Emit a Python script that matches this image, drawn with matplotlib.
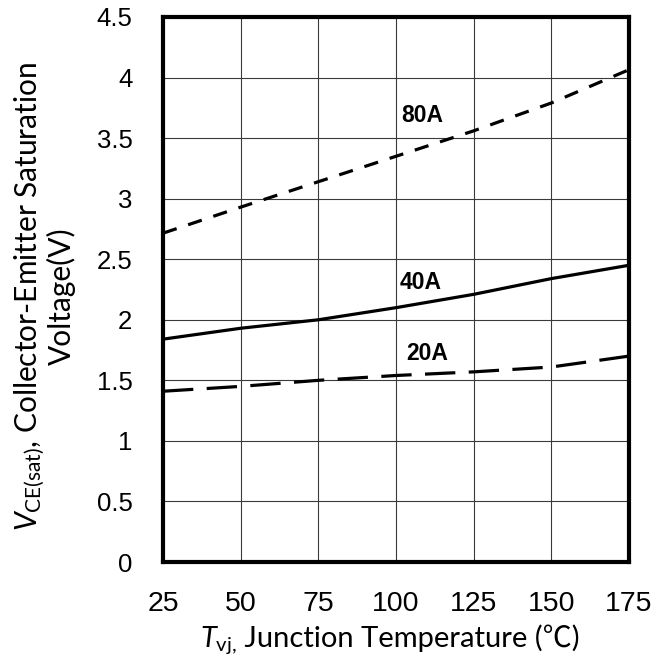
import numpy as np
import matplotlib
matplotlib.use("Agg")
import matplotlib.pyplot as plt

temps = [25, 50, 75, 100, 125, 150, 175]
vce_80a = [2.715, 2.93, 3.14, 3.35, 3.56, 3.79, 4.065]
vce_40a = [1.84, 1.93, 2.00, 2.10, 2.21, 2.34, 2.45]
vce_20a = [1.41, 1.45, 1.50, 1.54, 1.57, 1.61, 1.70]

labels = ["80A", "40A", "20A"]
label_pos = [(108.5, 3.69), (108.0, 2.31), (110.0, 1.72)]

plt.rcParams['mathtext.fontset'] = 'custom'
plt.rcParams['mathtext.rm'] = 'Lato'
plt.rcParams['mathtext.it'] = 'Lato:italic'

W, H = 672, 669
fig = plt.figure(figsize=(W / 100, H / 100), dpi=100)
ax = fig.add_axes([163 / W, 1 - 562 / H, 466 / W, 545 / H])

ax.plot(temps, vce_80a, color='black', lw=2.3, dashes=(4.5, 3.8), dash_capstyle='butt')
ax.plot(temps, vce_40a, color='black', lw=2.3)
ax.plot(temps, vce_20a, color='black', lw=2.3, dashes=(9.5, 4.2), dash_capstyle='butt')

for txt, (x, y) in zip(labels, label_pos):
    ax.text(x, y, txt, fontsize=16.5, fontweight='bold', family='Liberation Sans',
            ha='center', va='center')

ax.set_xlim(25, 175)
ax.set_ylim(0, 4.5)
ax.set_xticks(temps)
ax.set_yticks(np.arange(0, 4.51, 0.5))
ax.set_yticklabels(['0', '0.5', '1', '1.5', '2', '2.5', '3', '3.5', '4', '4.5'])
ax.grid(True, color='#3a3a3a', lw=0.8)
ax.set_axisbelow(True)
ax.tick_params(axis='y', length=0, labelsize=18.5, pad=22)
ax.tick_params(axis='x', length=0, labelsize=20.5, pad=21)
for lab in ax.get_xticklabels() + ax.get_yticklabels():
    lab.set_family('Liberation Sans')
for sp in ax.spines.values():
    sp.set_linewidth(3.0)

# y label, two centred lines
fig.text(44 / W, 1 - 296 / H,
         '$V_{\\mathrm{CE(sat)}}$, Collector-Emitter Saturation\nVoltage(V)',
         rotation=90, ha='center', va='center', multialignment='center',
         fontsize=21.5, family=['Lato', 'DejaVu Sans'], linespacing=1.0)

# x label: math part + plain part (℃ needs a fallback font)
fs = 21
base_y = 1 - 647 / H
t1 = fig.text(0, base_y, r'$T_{\mathrm{vj,}}$', fontsize=fs, va='baseline', ha='left')
t2 = fig.text(0, base_y, ' Junction Temperature (℃)', fontsize=fs, va='baseline', ha='left',
              family=['Lato', 'Noto Sans CJK SC', 'DejaVu Sans'])
fig.canvas.draw()
r = fig.canvas.get_renderer()
w1 = t1.get_window_extent(r).width
w2 = t2.get_window_extent(r).width
x0 = 390 - (w1 + w2) / 2
t1.set_x(x0 / W)
t2.set_x((x0 + w1) / W)

fig.savefig('out.png', dpi=100)
